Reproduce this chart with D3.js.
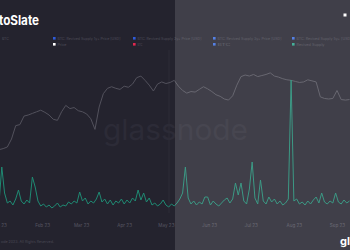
<!DOCTYPE html>
<html>
<head>
<meta charset="utf-8">
<script src="https://cdn.jsdelivr.net/npm/d3@7"></script>
<style>
  html, body { margin: 0; padding: 0; background: #24232e; }
  svg { display: block; font-family: Inter, "Noto Sans", sans-serif; }
</style>
</head>
<body>
<div class="chart"></div>
<script>
// Data
const startDate = new Date(2023, 0, 1);

// BTC price, one value every 3 days, in thousand USD
const priceStep = 3;
const priceValues = [
  16.5, 16.7, 17.0, 18.5, 21.0, 21.2, 22.8, 23.0, 23.3, 23.6,
  23.9, 23.5, 23.0, 22.2, 22.0, 23.6, 24.8, 24.2, 24.4, 23.8,
  23.6, 23.2, 22.3, 20.3, 24.5, 27.0, 28.0, 28.3, 28.0, 27.8,
  28.4, 28.2, 28.8, 30.0, 30.3, 29.5, 28.6, 27.5, 28.8, 29.2,
  28.9, 29.1, 29.5, 28.4, 27.6, 27.1, 27.4, 27.3, 27.8, 28.3,
  27.9, 27.4, 26.8, 26.5, 26.0, 25.8, 26.6, 28.6, 30.2, 30.5,
  30.3, 30.6, 30.2, 30.4, 30.6, 30.9, 30.3, 30.1, 29.8, 29.6,
  29.5, 29.3, 29.1, 29.2, 29.6, 29.4, 29.2, 26.4, 26.1, 26.0,
  26.1, 27.6, 25.9, 25.8, 25.9
];

// Revived supply, one value every 2 days, in thousand BTC
const supplyStep = 2;
const supplyValues = [
  10, 46, 20, 10, 12, 8, 14, 23, 12, 9,
  13, 10, 36, 26, 12, 7, 9, 6, 8, 5,
  7, 10, 6, 8, 7, 11, 9, 12, 10, 21,
  12, 15, 9, 12, 10, 14, 21, 11, 14, 9,
  13, 8, 12, 10, 14, 9, 13, 10, 15, 12,
  23, 13, 20, 11, 15, 8, 10, 7, 9, 13,
  8, 6, 9, 7, 10, 14, 20, 46, 15, 9,
  12, 8, 11, 9, 16, 16, 8, 12, 9, 7,
  10, 13, 15, 10, 14, 30, 18, 30, 12, 9,
  24, 51, 15, 9, 33, 12, 9, 16, 11, 14,
  9, 12, 8, 10, 14, 133, 12, 14, 9, 11,
  8, 12, 9, 13, 16, 10, 20, 11, 9, 12,
  10, 20, 11, 9, 13, 10, 12
];

const legendRow1 = [
  { color: "#2f5bd8", label: "BTC: Revived Supply 1y+ Price [USD]" },
  { color: "#2f5bd8", label: "BTC: Revived Supply 2y+ Price [USD]" },
  { color: "#3c6fe0", label: "BTC: Revived Supply 3y+ Price [USD]" },
  { color: "#3c6fe0", label: "BTC: Revived Supply 5y+ [USD]" }
];
const legendRow2 = [
  { color: "#ffffff", label: "Price" },
  { color: "#e0284f", label: "BTC" },
  { color: "#3c6fe0", label: "BTC" },
  { color: "#2aa58a", label: "Revived Supply" }
];

const W = 350, H = 250;

const svg = d3.select(".chart").append("svg")
    .attr("width", W)
    .attr("height", H);

svg.append("rect").attr("width", W).attr("height", H).attr("fill", "#24232e");

// Scales
const x = d3.scaleTime()
    .domain([new Date(2023, 0, 1), new Date(2023, 8, 1)])
    .range([-1, 337]);
const yPrice = d3.scaleLinear().domain([14, 32]).range([163, 67]);
const ySupply = d3.scaleLinear().domain([0, 140]).range([213, 73]);

const priceData = priceValues.map((v, i) => ({ date: d3.timeDay.offset(startDate, i * priceStep), v }));
const supplyData = supplyValues.map((v, i) => ({ date: d3.timeDay.offset(startDate, i * supplyStep), v }));

// Watermark
svg.append("text")
    .attr("x", 103).attr("y", 140)
    .attr("textLength", 145).attr("lengthAdjust", "spacingAndGlyphs")
    .attr("font-size", 29).attr("font-weight", 400)
    .attr("fill", "#2c2b37")
    .text("glassnode");

// faint crosshair
svg.append("line")
    .attr("x1", 169).attr("x2", 169).attr("y1", 50).attr("y2", 213)
    .attr("stroke", "#2d2c37").attr("stroke-width", 1);

// Title and legend
svg.append("text")
    .attr("x", -1).attr("y", 25)
    .attr("font-size", 13).attr("font-weight", 700)
    .attr("textLength", 40).attr("lengthAdjust", "spacingAndGlyphs")
    .attr("fill", "#ffffff")
    .text("toSlate");

svg.append("text")
    .attr("x", 2).attr("y", 39.5)
    .attr("font-size", 3.5).attr("fill", "#4e4d59")
    .text("BTC");

const legX = [53, 133, 213, 292];
const legW1 = [63, 64, 64, 55];
const legW2 = [9, 5, 13, 28];

function drawLegend(items, y, widths) {
  const g = svg.append("g").selectAll("g")
      .data(items).enter().append("g")
      .attr("transform", (d, i) => "translate(" + legX[i] + "," + y + ")");
  g.append("rect")
      .attr("x", 0).attr("y", -1.5).attr("width", 2.6).attr("height", 2.6)
      .attr("fill", d => d.color);
  g.append("text")
      .attr("x", 4.5).attr("y", 1.2)
      .attr("font-size", 3.5).attr("fill", "#4e4d59")
      .attr("textLength", (d, i) => widths[i]).attr("lengthAdjust", "spacingAndGlyphs")
      .text(d => d.label);
}
drawLegend(legendRow1, 38.5, legW1);
drawLegend(legendRow2, 44.5, legW2);

// Lines
svg.append("path")
    .datum(priceData)
    .attr("fill", "none")
    .attr("stroke", "#52515c")
    .attr("stroke-width", 1)
    .attr("d", d3.line().x(d => x(d.date)).y(d => yPrice(d.v)));

svg.append("path")
    .datum(supplyData)
    .attr("fill", "none")
    .attr("stroke", "#1f8a73")
    .attr("stroke-width", 1)
    .attr("d", d3.line().x(d => x(d.date)).y(d => ySupply(d.v)));

// X axis
const xAxis = d3.axisBottom(x)
    .ticks(d3.timeMonth.every(1))
    .tickFormat(d3.timeFormat("%b %y"))
    .tickSize(0);

const ax = svg.append("g")
    .attr("transform", "translate(0,221)")
    .call(xAxis);
ax.select(".domain").remove();
ax.selectAll("text")
    .attr("font-size", 4.6)
    .attr("font-family", "Inter, sans-serif")
    .attr("fill", "#575662");

// Footer
svg.append("text")
    .attr("x", 1).attr("y", 243)
    .attr("font-size", 3.6).attr("fill", "#4a4955")
    .attr("textLength", 53).attr("lengthAdjust", "spacingAndGlyphs")
    .text("ode 2023. All Rights Reserved.");

// Right-hand highlight panel
svg.append("rect")
    .attr("x", 175).attr("y", 0).attr("width", W - 175).attr("height", H)
    .attr("fill", "#ffffff").attr("opacity", 0.13);

svg.append("rect")
    .attr("x", 343.5).attr("y", 13.5).attr("width", 3).attr("height", 3)
    .attr("fill", "#ffffff");

svg.append("text")
    .attr("x", 340).attr("y", 245)
    .attr("font-size", 11).attr("font-weight", 700)
    .attr("fill", "#ffffff")
    .text("glassnode");
</script>
</body>
</html>
